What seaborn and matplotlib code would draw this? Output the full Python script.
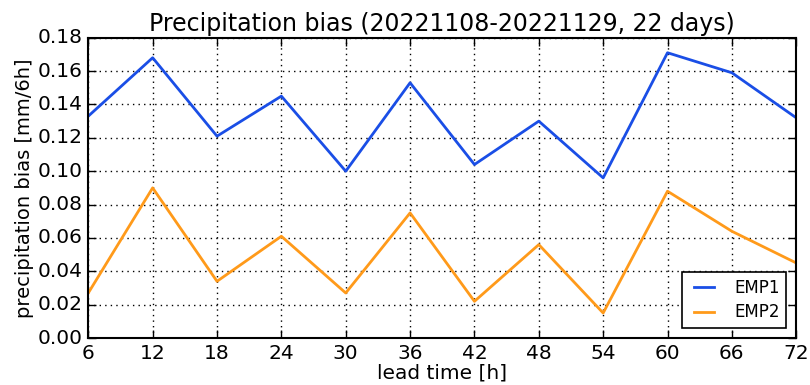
import numpy as np
import pandas as pd
import matplotlib
matplotlib.use("Agg")
import matplotlib.pyplot as plt
import seaborn as sns

lead_time = [6, 12, 18, 24, 30, 36, 42, 48, 54, 60, 66, 72]
emp1 = [0.133, 0.168, 0.121, 0.145, 0.100, 0.153, 0.104, 0.130, 0.096, 0.171, 0.159, 0.132]
emp2 = [0.027, 0.090, 0.034, 0.061, 0.027, 0.075, 0.022, 0.056, 0.015, 0.088, 0.064, 0.045]
series_names = ["EMP1", "EMP2"]
colors = ["#1a4ee6", "#ff9a1a"]
yticks = [0.00, 0.02, 0.04, 0.06, 0.08, 0.10, 0.12, 0.14, 0.16, 0.18]

df = pd.DataFrame({
    "lead": lead_time * 2,
    "bias": emp1 + emp2,
    "series": [series_names[0]] * len(lead_time) + [series_names[1]] * len(lead_time),
})

plt.style.use("classic")
plt.rcParams["font.family"] = ["DejaVu Sans"]
fig = plt.figure(figsize=(8.1, 3.85), dpi=100)
fig.patch.set_facecolor("white")
ax = fig.add_axes([0.109, 0.122, 0.874, 0.78])

sns.lineplot(data=df, x="lead", y="bias", hue="series", palette=colors,
             linewidth=2, ax=ax, legend=True)

ax.set_xlim(6, 72)
ax.set_ylim(0, 0.18)
ax.set_xticks(lead_time)
ax.set_yticks(yticks)
ax.set_yticklabels([f"{v:.2f}" for v in yticks])
ax.tick_params(labelsize=14.5, direction="in", length=6, width=1, top=True, right=True)
ax.grid(True, linestyle=":", color="black", linewidth=1)
ax.set_axisbelow(True)
for s in ax.spines.values():
    s.set_linewidth(1.5)
ax.set_xlabel("lead time [h]", fontsize=14.5, labelpad=1)
ax.set_ylabel("precipitation bias [mm/6h]", fontsize=14, labelpad=3)
ax.set_title("Precipitation bias (20221108-20221129, 22 days)", fontsize=17, pad=5)
leg = ax.legend(loc="lower right", fontsize=12, frameon=True, fancybox=False,
                handlelength=1.8, handletextpad=0.9, borderaxespad=0.6, labelspacing=0.4)
leg.get_frame().set_edgecolor("black")
leg.get_frame().set_linewidth(1.2)

fig.savefig("out.png", dpi=100, facecolor="white")
